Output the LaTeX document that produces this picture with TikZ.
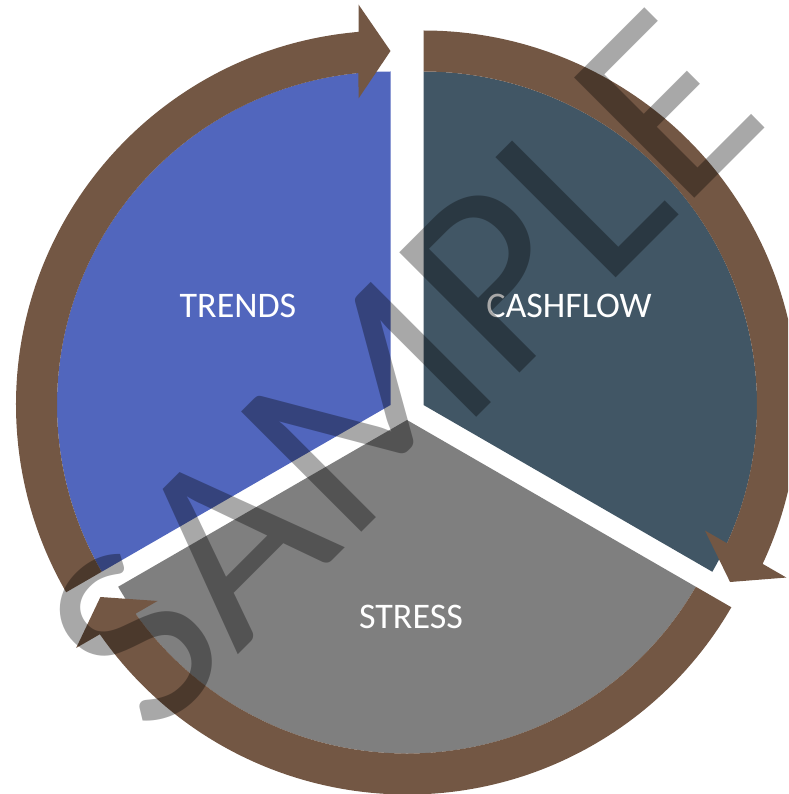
\documentclass[tikz,border=0pt]{standalone}
\usepackage{fontspec}
\setmainfont{Carlito}
\definecolor{trendblue}{RGB}{81,102,189}
\definecolor{cashteal}{RGB}{65,86,101}
\definecolor{stressgray}{RGB}{127,127,127}
\definecolor{ringbrown}{RGB}{115,87,68}
\begin{document}
\begin{tikzpicture}[x=1pt,y=1pt,
    sectortext/.style={text=white, font=\fontsize{36}{43}\selectfont, inner sep=0pt},
    watermark/.style={text=black, text opacity=0.34, font=\fontsize{265}{300}\selectfont, inner sep=0pt, rotate=45},
    ringarrow/.pic={
      \fill[ringbrown] (120:333.5) arc[start angle=120, end angle=5.51, radius=333.5]
        -- (306.5,32) -- (354,0) -- (400.5,32)
        -- (4.9:374.5) arc[start angle=4.9, end angle=120, radius=374.5] -- cycle;
    }]
    \clip (0,0) rectangle (788,-794);

    \fill[trendblue] (390.5,-405) -- +(90:333.5) arc[start angle=90, end angle=210, radius=333.5] -- cycle;
    \fill[cashteal] (423.5,-405) -- +(-30:333.5) arc[start angle=-30, end angle=90, radius=333.5] -- cycle;
    \fill[stressgray] (407,-420) -- +(210:333.5) arc[start angle=210, end angle=330, radius=333.5] -- cycle;

    \pic[rotate=90] at (390.5,-405) {ringarrow};
    \pic[rotate=-30] at (423.5,-405) {ringarrow};
    \pic[rotate=210] at (407,-420) {ringarrow};

    \node[sectortext] (trends) at (238,-306) {TRENDS};
    \node[sectortext] (cashflow) at (569,-306) {CASHFLOW};
    \node[sectortext] (stress) at (411,-617) {STRESS};

    \node[watermark] (sample) at (403,-370) {SAMPLE};
\end{tikzpicture}
\end{document}
